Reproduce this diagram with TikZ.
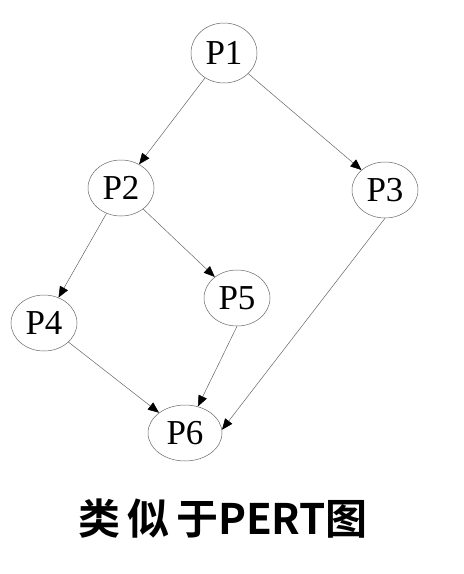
\documentclass[tikz,border=0pt]{standalone}
\usepackage{fontspec}
\setmainfont{Liberation Serif}
\newfontfamily\cjk{Noto Sans CJK SC}[BoldFont=* Bold]
\usetikzlibrary{shapes.geometric,arrows.meta}
\begin{document}
\begin{tikzpicture}[x=1pt,y=-1pt,
  pnode/.style={ellipse,draw=black!60,line width=0.5pt,inner sep=0pt,
    minimum width=66pt,minimum height=56pt,font=\fontsize{35}{35}\selectfont},
  edge/.style={draw=black!60,line width=0.5pt,-{Triangle[length=11pt,width=9pt,fill=black,color=black]}}]
\useasboundingbox (0,0) rectangle (464,574);
\node[pnode,minimum height=60pt] (p1) at (224,53) {P1};
\node[pnode] (p2) at (121,188) {P2};
\node[pnode] (p3) at (385,190) {P3};
\node[pnode] (p4) at (44,323) {P4};
\node[pnode] (p5) at (237,298) {P5};
\node[pnode,minimum width=74pt] (p6) at (185,433) {P6};
\draw[edge] (p1) -- (p2);
\draw[edge] (p1) -- (p3);
\draw[edge] (p2) -- (p4);
\draw[edge] (p2) -- (p5);
\draw[edge] (p4) -- (p6);
\draw[edge] (p5.south) -- (p6);
\draw[edge] (p3.south) -- (p6.5);
\node[font=\cjk\bfseries\fontsize{42}{42}\selectfont] (title) at (223,519) {类\,似\,于PERT图};
\end{tikzpicture}
\end{document}
